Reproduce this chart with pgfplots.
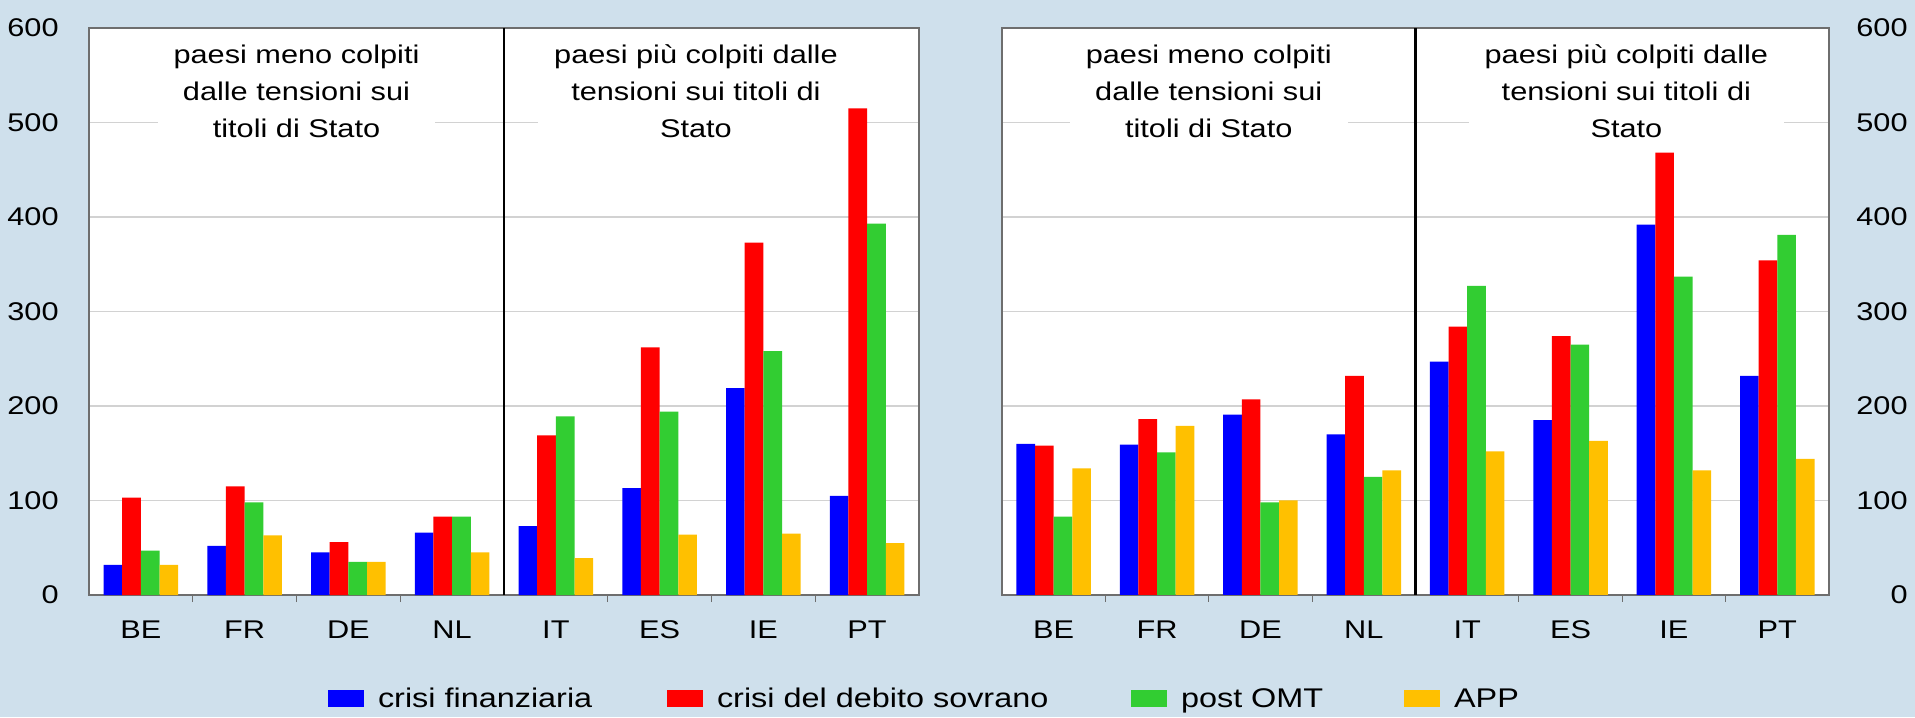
\documentclass[border=0pt]{standalone}
\usepackage{fontspec}
\setmainfont{Liberation Sans}[FakeStretch=1.2]
\usepackage{pgfplots}
\usepackage{pgfplotstable}
\pgfplotsset{compat=1.18}

\definecolor{bgblue}{RGB}{207,224,236}
\definecolor{cblue}{RGB}{0,0,255}
\definecolor{cred}{RGB}{255,0,0}
\definecolor{cgreen}{RGB}{50,205,50}
\definecolor{cyellow}{RGB}{255,192,0}
\definecolor{framegray}{RGB}{110,110,110}
\definecolor{gridgray}{RGB}{210,210,210}

\pgfplotstableread{
x fin sov omt app
0 32 103 47 32
1 52 115 98 63
2 45 56 35 35
3 66 83 83 45
4 73 169 189 39
5 113 262 194 64
6 219 373 258 65
7 105 515 393 55
}\lefttab

\pgfplotstableread{
x fin sov omt app
0 160 158 83 134
1 159 186 151 179
2 191 207 98 100
3 170 232 125 132
4 247 284 327 152
5 185 274 265 163
6 392 468 337 132
7 232 354 381 144
}\righttab

\tikzset{
  annot/.style={fill=white, align=center, inner xsep=8pt, inner ysep=2pt,
    font=\fontsize{12.8}{18.5}\selectfont},
}

\pgfplotsset{
  panel/.style={
    scale only axis,
    height=283.5pt,
    ymin=0, ymax=600,
    xmin=-0.5, xmax=7.5,
    enlarge x limits=false,
    ytick={0,100,...,600},
    xtick={0,...,7},
    xticklabels={BE,FR,DE,NL,IT,ES,IE,PT},
    minor xtick={0.5,1.5,2.5,4.5,5.5,6.5},
    major tick length=0pt,
    minor tick length=3.5pt,
    tick align=inside,
    xtick pos=bottom,
    ytick pos=left,
    minor x tick style={draw=framegray, line width=0.5pt},
    axis background/.style={fill=white},
    axis line style={draw=framegray, line width=0.6pt},
    ymajorgrids,
    grid style={draw=gridgray, line width=0.6pt},
    ybar=0pt,
    bar width=0.18,
    /pgf/number format/assume math mode=true,
    tick label style={font=\fontsize{12.8}{15}\selectfont, text=black},
    xticklabel style={anchor=north, inner sep=0pt, yshift=-12.5pt},
    every axis plot/.append style={draw=none},
    clip=false,
  },
}

\begin{document}
\begin{tikzpicture}
\useasboundingbox (0,0) rectangle (957.5pt,358.5pt);
\fill[bgblue] (0,0) rectangle (957.5pt,358.5pt);

% left panel
\begin{axis}[panel,
  at={(44.5pt,61pt)}, anchor=south west, width=415pt,
  yticklabel style={anchor=east, inner sep=0pt, xshift=-15pt},
  legend columns=4,
  legend image code/.code={\fill[#1] (0pt,-4.25pt) rectangle (18pt,4.25pt);},
  legend style={at={(0.288,-0.1825)}, anchor=west, draw=none, fill=none,
    inner sep=0pt, outer sep=0pt,
    font=\fontsize{13.5}{16}\selectfont,
    nodes={inner sep=0pt, text height=9.5pt, text depth=0pt},
    /tikz/every odd column/.append style={column sep=7pt},
    /tikz/every even column/.append style={column sep=0pt}},
  legend cell align=left,
]
\node[annot] at (axis cs:1.5,533) {paesi meno colpiti\\dalle tensioni sui\\titoli di Stato};
\node[annot] at (axis cs:5.35,533) {paesi più colpiti dalle\\tensioni sui titoli di\\Stato};
\addplot[fill=cblue] table[x=x, y=fin] {\lefttab};
\addlegendentry{\makebox[144.5pt][l]{crisi finanziaria}}
\addplot[fill=cred] table[x=x, y=sov] {\lefttab};
\addlegendentry{\makebox[207pt][l]{crisi del debito sovrano}}
\addplot[fill=cgreen] table[x=x, y=omt] {\lefttab};
\addlegendentry{\makebox[111.5pt][l]{post OMT}}
\addplot[fill=cyellow] table[x=x, y=app] {\lefttab};
\addlegendentry{APP}
\draw[black, line width=1.4pt] (axis cs:3.5,0) -- (axis cs:3.5,600);
\end{axis}

% right panel
\begin{axis}[panel,
  at={(501pt,61pt)}, anchor=south west, width=413.5pt,
  yticklabel pos=right,
  yticklabel style={anchor=east, inner sep=0pt, xshift=39.5pt},
]
\node[annot] at (axis cs:1.5,533) {paesi meno colpiti\\dalle tensioni sui\\titoli di Stato};
\node[annot] at (axis cs:5.54,533) {paesi più colpiti dalle\\tensioni sui titoli di\\Stato};
\addplot[fill=cblue] table[x=x, y=fin] {\righttab};
\addplot[fill=cred] table[x=x, y=sov] {\righttab};
\addplot[fill=cgreen] table[x=x, y=omt] {\righttab};
\addplot[fill=cyellow] table[x=x, y=app] {\righttab};
\draw[black, line width=1.4pt] (axis cs:3.5,0) -- (axis cs:3.5,600);
\end{axis}
\end{tikzpicture}
\end{document}
